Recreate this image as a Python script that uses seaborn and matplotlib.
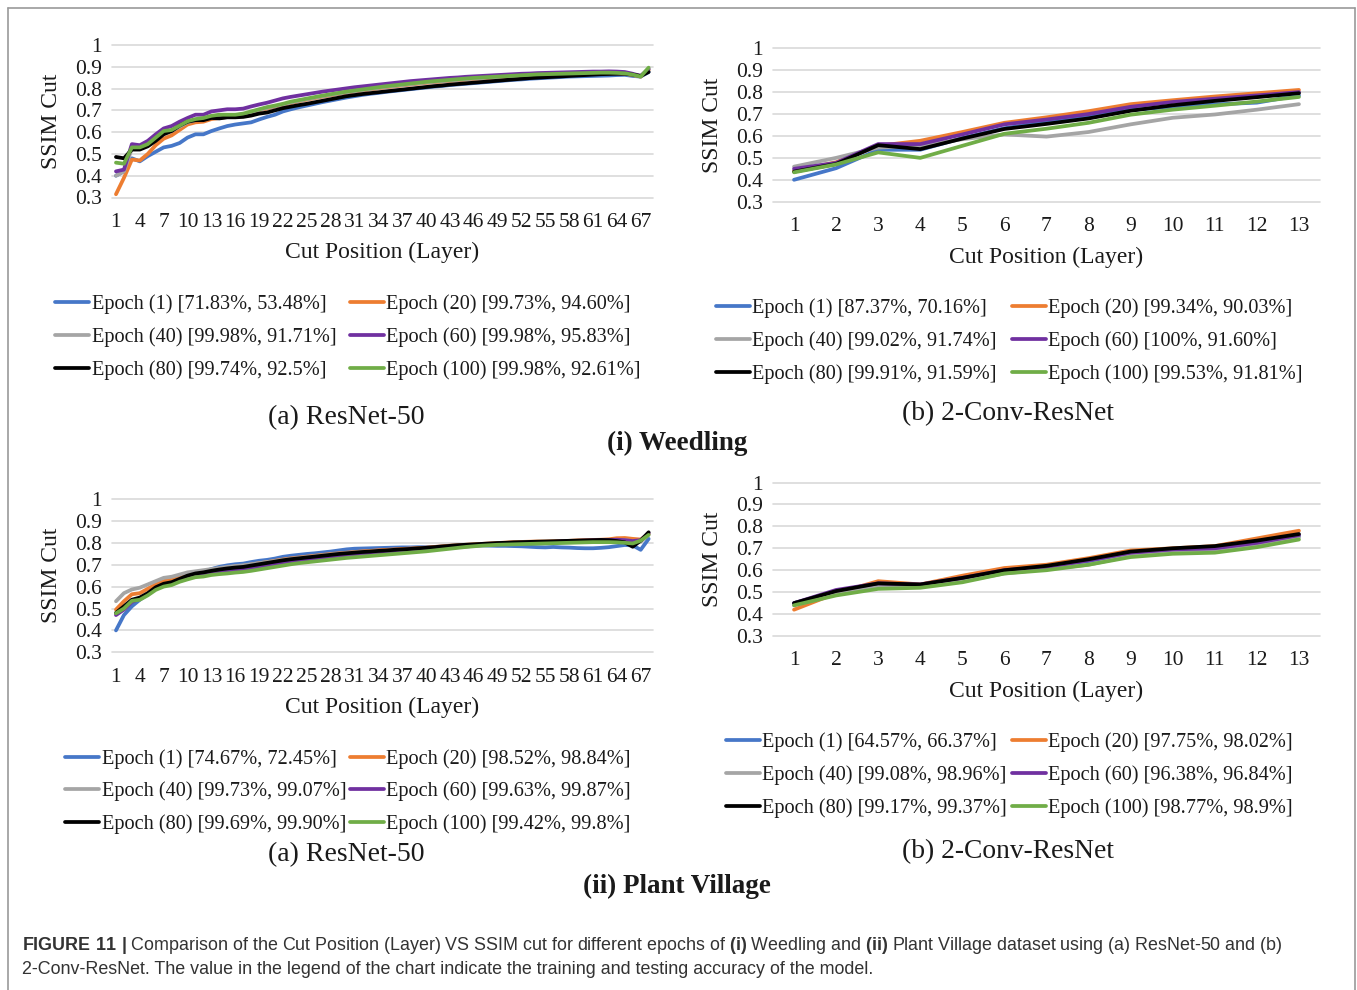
import numpy as np
import pandas as pd
import matplotlib
matplotlib.use("Agg")
import matplotlib.pyplot as plt
from matplotlib.lines import Line2D
import seaborn as sns

# ---------------- data ----------------
EPOCHS = ["Epoch (1)", "Epoch (20)", "Epoch (40)", "Epoch (60)", "Epoch (80)", "Epoch (100)"]
COLORS = ["#4677C8", "#ED7D31", "#A5A5A5", "#7030A0", "#000000", "#70AD47"]

LAYERS_RESNET = list(range(1, 69))
LAYERS_CONV = list(range(1, 14))

# (i) Weedling, ResNet-50
W_R50_E1 = [0.400, 0.420, 0.480, 0.466, 0.490, 0.510, 0.530, 0.537, 0.550, 0.575, 0.590, 0.590, 0.605, 0.617, 0.628, 0.635, 0.640, 0.645, 0.658, 0.670, 0.680, 0.695, 0.705,
            0.714, 0.722, 0.730, 0.738, 0.745, 0.752, 0.759, 0.765, 0.771, 0.776, 0.780, 0.785, 0.789, 0.793, 0.797, 0.801, 0.805, 0.809, 0.812, 0.816, 0.819, 0.822, 0.825,
            0.828, 0.831, 0.834, 0.837, 0.840, 0.842, 0.845, 0.847, 0.849, 0.851, 0.853, 0.855, 0.856, 0.857, 0.858, 0.859, 0.860, 0.862, 0.863, 0.858, 0.855, 0.876]
W_R50_E20 = [0.315, 0.390, 0.474, 0.470, 0.500, 0.540, 0.570, 0.585, 0.610, 0.635, 0.645, 0.648, 0.660, 0.665, 0.670, 0.675, 0.680, 0.690, 0.700, 0.708, 0.717, 0.725, 0.733,
             0.742, 0.749, 0.756, 0.763, 0.769, 0.775, 0.781, 0.786, 0.791, 0.796, 0.801, 0.806, 0.810, 0.814, 0.818, 0.822, 0.826, 0.829, 0.832, 0.835, 0.838, 0.841, 0.844,
             0.846, 0.849, 0.851, 0.853, 0.855, 0.857, 0.859, 0.861, 0.862, 0.863, 0.864, 0.866, 0.867, 0.868, 0.869, 0.870, 0.870, 0.870, 0.868, 0.862, 0.855, 0.885]
W_R50_E40 = [0.400, 0.420, 0.525, 0.525, 0.540, 0.570, 0.600, 0.605, 0.625, 0.645, 0.655, 0.660, 0.670, 0.675, 0.677, 0.678, 0.682, 0.692, 0.702, 0.711, 0.719, 0.727, 0.736,
             0.744, 0.751, 0.758, 0.765, 0.771, 0.777, 0.783, 0.788, 0.793, 0.798, 0.803, 0.808, 0.812, 0.816, 0.820, 0.824, 0.828, 0.831, 0.834, 0.837, 0.840, 0.843, 0.846,
             0.848, 0.851, 0.853, 0.855, 0.857, 0.859, 0.861, 0.863, 0.864, 0.865, 0.866, 0.868, 0.869, 0.870, 0.871, 0.872, 0.872, 0.871, 0.869, 0.863, 0.855, 0.888]
W_R50_E60 = [0.420, 0.428, 0.545, 0.540, 0.560, 0.590, 0.617, 0.628, 0.648, 0.665, 0.680, 0.680, 0.695, 0.700, 0.705, 0.705, 0.708, 0.718, 0.727, 0.735, 0.745, 0.755, 0.762,
             0.768, 0.774, 0.780, 0.786, 0.791, 0.796, 0.801, 0.806, 0.810, 0.814, 0.818, 0.822, 0.826, 0.830, 0.834, 0.837, 0.840, 0.843, 0.846, 0.849, 0.851, 0.854, 0.856,
             0.858, 0.860, 0.862, 0.864, 0.866, 0.868, 0.869, 0.871, 0.872, 0.873, 0.874, 0.875, 0.876, 0.877, 0.878, 0.878, 0.879, 0.878, 0.876, 0.868, 0.858, 0.890]
W_R50_E80 = [0.486, 0.480, 0.520, 0.520, 0.535, 0.560, 0.590, 0.605, 0.630, 0.648, 0.655, 0.655, 0.665, 0.663, 0.668, 0.668, 0.670, 0.676, 0.685, 0.690, 0.700, 0.710, 0.717,
             0.724, 0.730, 0.737, 0.744, 0.751, 0.758, 0.765, 0.770, 0.775, 0.779, 0.783, 0.787, 0.791, 0.795, 0.799, 0.803, 0.807, 0.811, 0.814, 0.818, 0.821, 0.824, 0.827,
             0.830, 0.833, 0.836, 0.839, 0.842, 0.845, 0.848, 0.850, 0.852, 0.854, 0.856, 0.858, 0.860, 0.862, 0.864, 0.866, 0.867, 0.868, 0.868, 0.864, 0.858, 0.876]
W_R50_E100 = [0.460, 0.455, 0.530, 0.530, 0.545, 0.575, 0.605, 0.610, 0.630, 0.650, 0.660, 0.665, 0.675, 0.680, 0.680, 0.680, 0.685, 0.695, 0.705, 0.715, 0.722, 0.730, 0.740,
              0.747, 0.754, 0.761, 0.768, 0.774, 0.780, 0.786, 0.791, 0.796, 0.801, 0.806, 0.811, 0.815, 0.819, 0.823, 0.827, 0.831, 0.834, 0.837, 0.840, 0.843, 0.846, 0.849,
              0.851, 0.853, 0.855, 0.857, 0.859, 0.861, 0.863, 0.865, 0.866, 0.867, 0.868, 0.869, 0.870, 0.871, 0.872, 0.873, 0.873, 0.872, 0.870, 0.864, 0.855, 0.896]

# (i) Weedling, 2-Conv-ResNet
W_C2_E1 = [0.400, 0.453, 0.537, 0.537, 0.590, 0.635, 0.665, 0.688, 0.718, 0.733, 0.744, 0.752, 0.785]
W_C2_E20 = [0.440, 0.480, 0.555, 0.578, 0.618, 0.660, 0.685, 0.713, 0.745, 0.763, 0.780, 0.795, 0.810]
W_C2_E40 = [0.460, 0.500, 0.547, 0.555, 0.585, 0.607, 0.597, 0.618, 0.653, 0.683, 0.698, 0.720, 0.745]
W_C2_E60 = [0.450, 0.477, 0.563, 0.563, 0.607, 0.653, 0.675, 0.700, 0.733, 0.755, 0.770, 0.785, 0.800]
W_C2_E80 = [0.437, 0.472, 0.558, 0.540, 0.588, 0.632, 0.655, 0.680, 0.715, 0.740, 0.760, 0.777, 0.795]
W_C2_E100 = [0.434, 0.470, 0.525, 0.500, 0.555, 0.610, 0.633, 0.660, 0.697, 0.720, 0.738, 0.757, 0.778]

# (ii) Plant Village, ResNet-50
P_R50_E1 = [0.400, 0.470, 0.510, 0.540, 0.565, 0.590, 0.610, 0.620, 0.635, 0.650, 0.660, 0.668, 0.680, 0.690, 0.697, 0.702, 0.705, 0.712, 0.718, 0.722, 0.728, 0.736, 0.741,
            0.745, 0.749, 0.752, 0.756, 0.760, 0.765, 0.770, 0.773, 0.774, 0.775, 0.776, 0.777, 0.778, 0.779, 0.779, 0.780, 0.780, 0.781, 0.783, 0.786, 0.788, 0.789, 0.789,
            0.788, 0.787, 0.786, 0.786, 0.785, 0.784, 0.782, 0.780, 0.779, 0.781, 0.779, 0.778, 0.776, 0.775, 0.775, 0.777, 0.780, 0.785, 0.790, 0.788, 0.768, 0.818]
P_R50_E20 = [0.495, 0.533, 0.565, 0.570, 0.590, 0.610, 0.625, 0.633, 0.645, 0.655, 0.662, 0.670, 0.675, 0.682, 0.687, 0.692, 0.695, 0.701, 0.707, 0.712, 0.718, 0.724, 0.729,
             0.733, 0.737, 0.741, 0.745, 0.749, 0.752, 0.755, 0.758, 0.761, 0.763, 0.766, 0.768, 0.770, 0.772, 0.774, 0.776, 0.778, 0.781, 0.784, 0.787, 0.789, 0.791, 0.793,
             0.795, 0.797, 0.799, 0.801, 0.803, 0.804, 0.805, 0.806, 0.806, 0.807, 0.808, 0.809, 0.811, 0.812, 0.813, 0.814, 0.816, 0.821, 0.822, 0.818, 0.815, 0.840]
P_R50_E40 = [0.533, 0.570, 0.587, 0.595, 0.610, 0.625, 0.640, 0.645, 0.655, 0.665, 0.670, 0.675, 0.680, 0.685, 0.690, 0.694, 0.697, 0.702, 0.707, 0.712, 0.717, 0.722, 0.727,
             0.731, 0.735, 0.739, 0.743, 0.747, 0.750, 0.753, 0.756, 0.758, 0.760, 0.762, 0.764, 0.766, 0.768, 0.770, 0.772, 0.774, 0.777, 0.780, 0.783, 0.786, 0.788, 0.790,
             0.792, 0.794, 0.796, 0.798, 0.800, 0.801, 0.802, 0.803, 0.803, 0.804, 0.805, 0.806, 0.807, 0.808, 0.808, 0.809, 0.810, 0.812, 0.812, 0.808, 0.805, 0.838]
P_R50_E60 = [0.470, 0.495, 0.530, 0.545, 0.565, 0.590, 0.605, 0.613, 0.627, 0.640, 0.650, 0.655, 0.662, 0.667, 0.671, 0.675, 0.678, 0.684, 0.690, 0.696, 0.702, 0.708, 0.713,
             0.718, 0.722, 0.726, 0.730, 0.734, 0.738, 0.741, 0.744, 0.747, 0.749, 0.752, 0.754, 0.756, 0.759, 0.761, 0.764, 0.767, 0.770, 0.774, 0.777, 0.780, 0.783, 0.786,
             0.789, 0.791, 0.793, 0.795, 0.797, 0.799, 0.800, 0.802, 0.803, 0.804, 0.806, 0.807, 0.809, 0.810, 0.811, 0.812, 0.813, 0.814, 0.812, 0.808, 0.812, 0.845]
P_R50_E80 = [0.480, 0.510, 0.540, 0.550, 0.570, 0.597, 0.613, 0.620, 0.635, 0.650, 0.660, 0.665, 0.672, 0.678, 0.683, 0.687, 0.690, 0.696, 0.702, 0.708, 0.714, 0.720, 0.725,
             0.729, 0.733, 0.737, 0.741, 0.745, 0.749, 0.752, 0.755, 0.758, 0.760, 0.763, 0.765, 0.768, 0.770, 0.772, 0.775, 0.777, 0.780, 0.783, 0.786, 0.789, 0.791, 0.793,
             0.795, 0.797, 0.799, 0.800, 0.802, 0.803, 0.804, 0.805, 0.806, 0.807, 0.808, 0.809, 0.810, 0.811, 0.812, 0.813, 0.812, 0.808, 0.802, 0.782, 0.810, 0.848]
P_R50_E100 = [0.478, 0.500, 0.535, 0.540, 0.560, 0.585, 0.600, 0.607, 0.622, 0.633, 0.643, 0.646, 0.653, 0.657, 0.660, 0.664, 0.667, 0.672, 0.678, 0.684, 0.690, 0.696, 0.702,
              0.707, 0.711, 0.715, 0.719, 0.723, 0.727, 0.731, 0.734, 0.737, 0.740, 0.743, 0.746, 0.749, 0.752, 0.755, 0.758, 0.761, 0.765, 0.769, 0.773, 0.777, 0.781, 0.784,
              0.787, 0.789, 0.791, 0.792, 0.793, 0.794, 0.795, 0.796, 0.797, 0.798, 0.799, 0.800, 0.801, 0.802, 0.803, 0.803, 0.803, 0.802, 0.800, 0.797, 0.810, 0.836]

# (ii) Plant Village, 2-Conv-ResNet
P_C2_E1 = [0.450, 0.500, 0.535, 0.530, 0.560, 0.595, 0.615, 0.640, 0.675, 0.690, 0.700, 0.725, 0.755]
P_C2_E20 = [0.420, 0.495, 0.550, 0.535, 0.575, 0.610, 0.625, 0.655, 0.690, 0.700, 0.710, 0.745, 0.780]
P_C2_E40 = [0.440, 0.490, 0.525, 0.525, 0.550, 0.585, 0.605, 0.625, 0.665, 0.680, 0.690, 0.715, 0.750]
P_C2_E60 = [0.450, 0.510, 0.540, 0.535, 0.565, 0.600, 0.615, 0.645, 0.680, 0.695, 0.700, 0.725, 0.760]
P_C2_E80 = [0.450, 0.505, 0.540, 0.535, 0.565, 0.600, 0.620, 0.650, 0.685, 0.700, 0.710, 0.735, 0.765]
P_C2_E100 = [0.440, 0.485, 0.515, 0.520, 0.545, 0.585, 0.600, 0.625, 0.660, 0.675, 0.680, 0.705, 0.740]

ACC_W_R50 = ["[71.83%, 53.48%]", "[99.73%, 94.60%]", "[99.98%, 91.71%]", "[99.98%, 95.83%]", "[99.74%, 92.5%]", "[99.98%, 92.61%]"]
ACC_W_C2 = ["[87.37%, 70.16%]", "[99.34%, 90.03%]", "[99.02%, 91.74%]", "[100%, 91.60%]", "[99.91%, 91.59%]", "[99.53%, 91.81%]"]
ACC_P_R50 = ["[74.67%, 72.45%]", "[98.52%, 98.84%]", "[99.73%, 99.07%]", "[99.63%, 99.87%]", "[99.69%, 99.90%]", "[99.42%, 99.8%]"]
ACC_P_C2 = ["[64.57%, 66.37%]", "[97.75%, 98.02%]", "[99.08%, 98.96%]", "[96.38%, 96.84%]", "[99.17%, 99.37%]", "[98.77%, 98.9%]"]

YTICKS = [0.3, 0.4, 0.5, 0.6, 0.7, 0.8, 0.9, 1.0]
YTICKLABELS = ["0.3", "0.4", "0.5", "0.6", "0.7", "0.8", "0.9", "1"]
XTICKS_RESNET = list(range(1, 68, 3))

# ---------------- style ----------------
sns.set_theme(style="white")
plt.rcParams["font.family"] = ["Liberation Serif", "DejaVu Serif"]
plt.rcParams["mathtext.fontset"] = "custom"
plt.rcParams["mathtext.rm"] = "Liberation Sans"
plt.rcParams["mathtext.bf"] = "Liberation Sans:bold"

W, H = 1357, 990
fig = plt.figure(figsize=(W / 100, H / 100), dpi=100)
fig.patch.set_facecolor("white")
TXT = "#1a1a1a"
LEG_FS = 14.6


def rect(x0, x1, ytop, ybot):
    return [x0 / W, 1 - ybot / H, (x1 - x0) / W, (ybot - ytop) / H]


def panel(r, layers, series, accs, xticks, xlim, leg_cols_x, leg_row1_y, leg_dy):
    ax = fig.add_axes(r)
    rows = []
    for name, vals in zip(EPOCHS, series):
        for l, v in zip(layers, vals):
            rows.append({"Layer": l, "SSIM": v, "Epoch": name})
    df = pd.DataFrame(rows)
    sns.lineplot(data=df, x="Layer", y="SSIM", hue="Epoch", hue_order=EPOCHS,
                 palette=COLORS, linewidth=2.7, legend=False, ax=ax, clip_on=False)
    ax.set_xlim(*xlim)
    ax.set_ylim(0.3, 1.0)
    ax.set_yticks(YTICKS)
    ax.set_yticklabels(YTICKLABELS)
    ax.set_xticks(xticks)
    ax.set_xticklabels([str(t) for t in xticks])
    for s in ax.spines.values():
        s.set_visible(False)
    ax.yaxis.grid(True, color="#d9d9d9", linewidth=1.2)
    ax.xaxis.grid(False)
    for gl in ax.get_ygridlines():
        gl.set_clip_on(False)
    ax.tick_params(axis="both", length=0, labelsize=15.5, colors=TXT)
    ax.tick_params(axis="x", pad=11)
    ax.tick_params(axis="y", pad=7)
    ax.set_xlabel("Cut Position (Layer)", fontsize=17, color=TXT)
    ax.set_ylabel("SSIM Cut", fontsize=17, color=TXT)
    ax.xaxis.set_label_coords(0.5, -0.36)
    ax.yaxis.set_label_coords(-0.111, 0.5)
    ax.xaxis.label.set_va("center")
    ax.yaxis.label.set_va("center")
    ax.set_facecolor("white")
    labels = [f"{e} {a}" for e, a in zip(EPOCHS, accs)]
    for c, idx in enumerate([(0, 2, 4), (1, 3, 5)]):
        hs = [Line2D([0], [0], color=COLORS[i], lw=2.7) for i in idx]
        ls = [labels[i] for i in idx]
        top = leg_row1_y - 7.5
        fig.legend(hs, ls, loc="upper left",
                   bbox_to_anchor=(leg_cols_x[c] / W, 1 - top / H),
                   bbox_transform=fig.transFigure, frameon=False, fontsize=LEG_FS,
                   handlelength=1.7, handletextpad=0.1, borderpad=0, borderaxespad=0,
                   labelspacing=(leg_dy - 19.5) / (LEG_FS * 100 / 72), labelcolor=TXT)
    return ax


panel(rect(112, 653, 45, 197.5), LAYERS_RESNET,
      [W_R50_E1, W_R50_E20, W_R50_E40, W_R50_E60, W_R50_E80, W_R50_E100], ACC_W_R50,
      XTICKS_RESNET, (0.5, 68.55), (55, 350), 302, 32.5)
panel(rect(773, 1320, 48.3, 201.7), LAYERS_CONV,
      [W_C2_E1, W_C2_E20, W_C2_E40, W_C2_E60, W_C2_E80, W_C2_E100], ACC_W_C2,
      LAYERS_CONV, (0.5, 13.5), (716, 1012), 306, 32.5)
panel(rect(112, 653, 499, 652.3), LAYERS_RESNET,
      [P_R50_E1, P_R50_E20, P_R50_E40, P_R50_E60, P_R50_E80, P_R50_E100], ACC_P_R50,
      XTICKS_RESNET, (0.5, 68.55), (65, 350), 757, 32)
panel(rect(773, 1320, 482.5, 636), LAYERS_CONV,
      [P_C2_E1, P_C2_E20, P_C2_E40, P_C2_E60, P_C2_E80, P_C2_E100], ACC_P_C2,
      LAYERS_CONV, (0.5, 13.5), (726, 1012), 740, 32.5)


def ftext(x, y, s, **kw):
    fig.text(x / W, 1 - y / H, s, **kw)


ftext(346, 418, "(a) ResNet-50", fontsize=20, ha="center", va="center", color=TXT)
ftext(1008, 414, "(b) 2-Conv-ResNet", fontsize=19.8, ha="center", va="center", color=TXT)
ftext(677, 443, "(i) Weedling", fontsize=19.5, fontweight="bold", ha="center", va="center", color=TXT)
ftext(346, 855, "(a) ResNet-50", fontsize=20, ha="center", va="center", color=TXT)
ftext(1008, 852, "(b) 2-Conv-ResNet", fontsize=19.8, ha="center", va="center", color=TXT)
ftext(677, 886, "(ii) Plant Village", fontsize=19.5, fontweight="bold", ha="center", va="center", color=TXT)

CAP1 = (r"$\mathbf{FIGURE\ 11\ |}$ Comparison of the Cut Position (Layer) VS SSIM cut for different epochs of "
        r"$\mathbf{(i)}$ Weedling and $\mathbf{(ii)}$ Plant Village dataset using (a) ResNet-50 and (b)")
CAP2 = "2-Conv-ResNet. The value in the legend of the chart indicate the training and testing accuracy of the model."
ftext(22, 945, CAP1, fontsize=12.9, ha="left", va="center", color="#333333", family="Liberation Sans")
ftext(22, 970, CAP2, fontsize=12.9, ha="left", va="center", color="#333333", family="Liberation Sans")

# frame
fc = "#9a9a9a"
fig.add_artist(Line2D([8 / W, 8 / W], [0, 1 - 8 / H], transform=fig.transFigure, color=fc, lw=1.2))
fig.add_artist(Line2D([8 / W, 1355 / W], [1 - 8 / H, 1 - 8 / H], transform=fig.transFigure, color=fc, lw=1.2))
fig.add_artist(Line2D([1355 / W, 1355 / W], [0, 1 - 8 / H], transform=fig.transFigure, color=fc, lw=1.2))

fig.savefig("out.png", dpi=100, facecolor="white")
